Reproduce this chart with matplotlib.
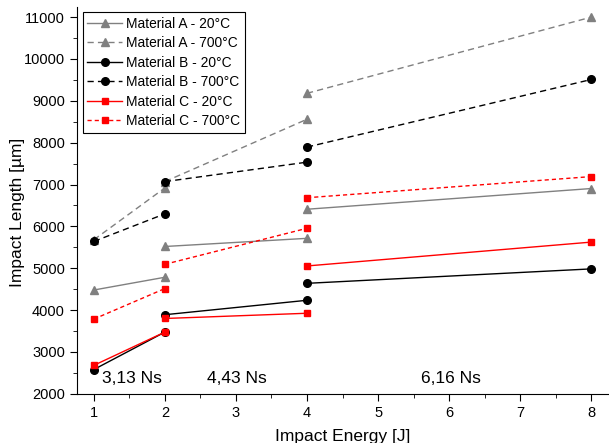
import matplotlib
matplotlib.use("Agg")
import matplotlib.pyplot as plt
from matplotlib.ticker import MultipleLocator

plt.rcParams['font.family'] = ['Liberation Sans', 'DejaVu Sans']

# energie-paare je impuls-gruppe (3,13 / 4,43 / 6,16 Ns)
groups_x = [[1, 2], [2, 4], [4, 8]]
impulse_labels = ['3,13 Ns', '4,43 Ns', '6,16 Ns']
impulse_x = [1.53, 3.02, 6.03]

# werte je reihe: [g1 start, g1 ende, g2 start, g2 ende, g3 start, g3 ende]
a_20 = [4480, 4785, 5520, 5715, 6410, 6905]
a_700 = [5680, 6920, 7070, 8560, 9180, 11000]
b_20 = [2580, 3475, 3890, 4235, 4640, 4985]
b_700 = [5640, 6300, 7070, 7535, 7895, 9510]
c_20 = [2680, 3475, 3800, 3925, 5055, 5625]
c_700 = [3785, 4515, 5095, 5955, 6685, 7190]

series = [
    ('Material A - 20°C', a_20, 'gray', '-', '^', 6),
    ('Material A - 700°C', a_700, 'gray', (0, (4.5, 3)), '^', 6),
    ('Material B - 20°C', b_20, 'black', '-', 'o', 5.5),
    ('Material B - 700°C', b_700, 'black', (0, (4.5, 3)), 'o', 5.5),
    ('Material C - 20°C', c_20, 'red', '-', 's', 5),
    ('Material C - 700°C', c_700, 'red', (0, (3, 2.2)), 's', 5),
]

fig = plt.figure(figsize=(6.09, 4.43), dpi=100)
ax = fig.add_axes([0.126, 0.111, 0.874, 0.873])

for label, vals, col, ls, mk, ms in series:
    for i, gx in enumerate(groups_x):
        ax.plot(gx, vals[2 * i:2 * i + 2], color=col, linestyle=ls, linewidth=1.0,
                marker=mk, markersize=ms, label=label if i == 0 else None)

for txt, tx in zip(impulse_labels, impulse_x):
    ax.text(tx, 2360, txt, ha='center', va='center', fontsize=12.5)

ax.set_xlim(0.76, 8.25)
ax.set_ylim(2000, 11240)
ax.xaxis.set_major_locator(MultipleLocator(1))
ax.xaxis.set_minor_locator(MultipleLocator(0.5))
ax.yaxis.set_major_locator(MultipleLocator(1000))
ax.yaxis.set_minor_locator(MultipleLocator(500))
ax.tick_params(which='major', direction='out', length=5, labelsize=10.5)
ax.tick_params(which='minor', direction='out', length=3)
ax.spines['top'].set_visible(False)
ax.spines['right'].set_visible(False)

ax.set_xlabel('Impact Energy [J]', fontsize=12.5, labelpad=7)
ax.set_ylabel('Impact Length [µm]', fontsize=12.5)
ax.yaxis.set_label_coords(-0.098, 0.468)

leg = ax.legend(loc='upper left', bbox_to_anchor=(0.011, 0.988), fontsize=9.9,
                frameon=True, fancybox=False, edgecolor='black', framealpha=1,
                handlelength=2.5, borderpad=0.35, labelspacing=0.4, handletextpad=0.3,
                borderaxespad=0)
leg.get_frame().set_linewidth(0.8)

fig.savefig('out.png', dpi=100)
